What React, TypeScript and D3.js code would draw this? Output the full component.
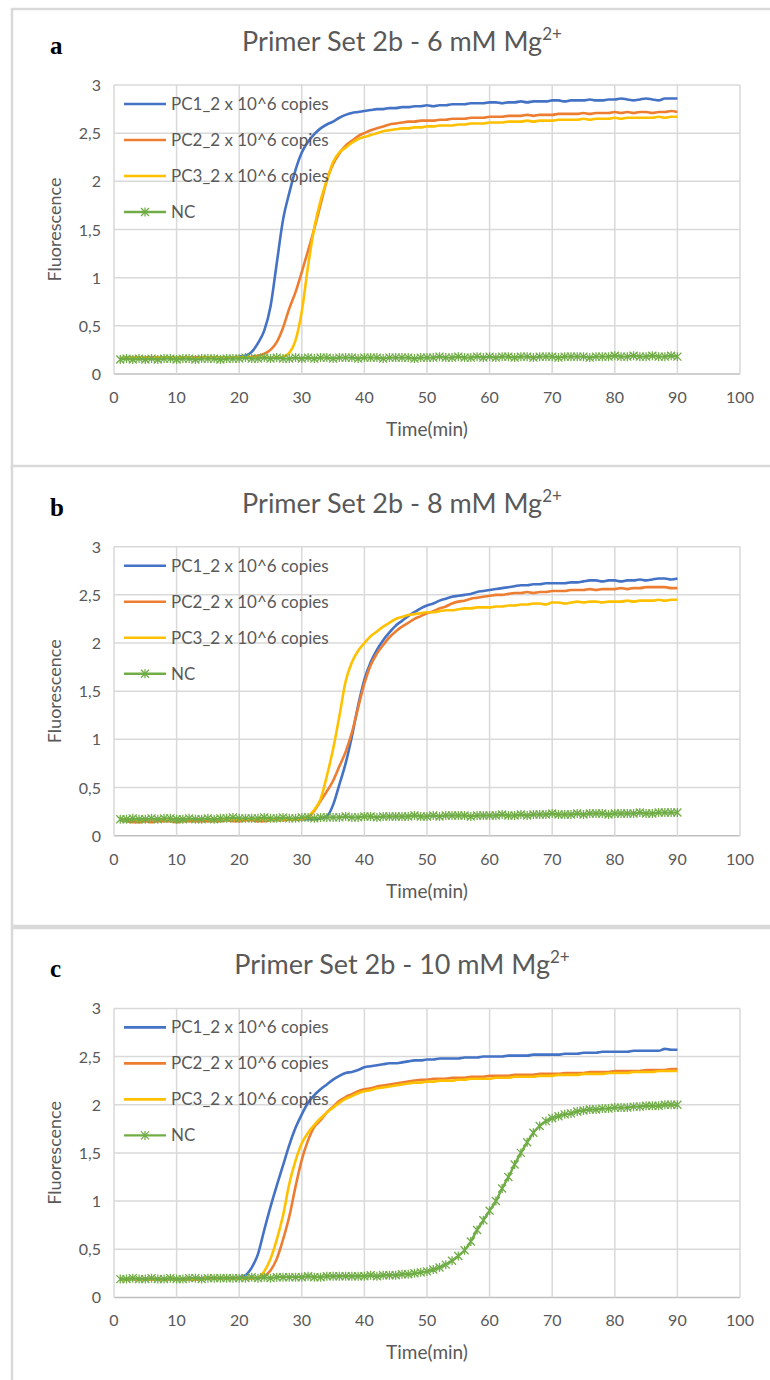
import React from "react";
import * as d3 from "d3";

// sampling times (min)
const TIME = d3.range(1, 91);

const PANEL_LABELS = ["a", "b", "c"];
const MG_CONC = ["6", "8", "10"];
const SERIES_NAMES = ["PC1_2 x 10^6 copies", "PC2_2 x 10^6 copies", "PC3_2 x 10^6 copies", "NC"];
const COLORS = ["#4472C4", "#ED7D31", "#FFC000", "#70AD47"];
const Y_TICKS = [0, 0.5, 1, 1.5, 2, 2.5, 3];
const X_TICKS = [0, 10, 20, 30, 40, 50, 60, 70, 80, 90, 100];

// ---- panel a : 6 mM
const PC1_A = [
  0.16, 0.16, 0.17, 0.16, 0.17, 0.17, 0.16, 0.17, 0.17, 0.17,
  0.17, 0.16, 0.17, 0.17, 0.17, 0.17, 0.17, 0.17, 0.17, 0.18,
  0.19, 0.23, 0.32, 0.45, 0.70, 1.15, 1.60, 1.88, 2.12, 2.30,
  2.41, 2.49, 2.55, 2.59, 2.62, 2.66, 2.69, 2.71, 2.72, 2.73,
  2.74, 2.75, 2.75, 2.76, 2.76, 2.77, 2.77, 2.78, 2.78, 2.79,
  2.78, 2.79, 2.79, 2.80, 2.80, 2.80, 2.81, 2.81, 2.81, 2.82,
  2.82, 2.81, 2.82, 2.82, 2.83, 2.82, 2.83, 2.83, 2.83, 2.84,
  2.84, 2.83, 2.84, 2.84, 2.84, 2.85, 2.84, 2.84, 2.85, 2.85,
  2.86, 2.85, 2.84, 2.85, 2.86, 2.85, 2.84, 2.86, 2.86, 2.86,
];
const PC2_A = [
  0.16, 0.17, 0.17, 0.17, 0.16, 0.17, 0.17, 0.17, 0.17, 0.16,
  0.17, 0.17, 0.17, 0.17, 0.17, 0.17, 0.17, 0.17, 0.17, 0.17,
  0.17, 0.18, 0.19, 0.21, 0.25, 0.33, 0.48, 0.68, 0.85, 1.06,
  1.28, 1.51, 1.76, 2.01, 2.18, 2.29, 2.37, 2.42, 2.47, 2.50,
  2.53, 2.55, 2.57, 2.59, 2.60, 2.61, 2.62, 2.62, 2.63, 2.63,
  2.63, 2.64, 2.64, 2.65, 2.65, 2.65, 2.66, 2.66, 2.66, 2.67,
  2.67, 2.67, 2.68, 2.68, 2.68, 2.69, 2.68, 2.69, 2.69, 2.69,
  2.70, 2.70, 2.70, 2.70, 2.71, 2.70, 2.71, 2.71, 2.71, 2.72,
  2.71, 2.72, 2.71, 2.72, 2.72, 2.71, 2.72, 2.72, 2.73, 2.72,
];
const PC3_A = [
  0.17, 0.16, 0.17, 0.17, 0.17, 0.16, 0.17, 0.17, 0.17, 0.17,
  0.17, 0.17, 0.16, 0.17, 0.17, 0.17, 0.17, 0.17, 0.17, 0.17,
  0.17, 0.17, 0.17, 0.17, 0.17, 0.17, 0.18, 0.22, 0.35, 0.65,
  1.12, 1.52, 1.80, 2.01, 2.20, 2.30, 2.35, 2.40, 2.44, 2.46,
  2.48, 2.50, 2.52, 2.53, 2.54, 2.55, 2.55, 2.56, 2.56, 2.57,
  2.57, 2.58, 2.58, 2.58, 2.59, 2.59, 2.60, 2.60, 2.60, 2.61,
  2.61, 2.61, 2.62, 2.62, 2.62, 2.63, 2.62, 2.63, 2.63, 2.63,
  2.64, 2.64, 2.64, 2.64, 2.65, 2.64, 2.65, 2.65, 2.65, 2.66,
  2.65, 2.66, 2.66, 2.66, 2.66, 2.66, 2.67, 2.66, 2.67, 2.67,
];
const NC_A = [
  0.15, 0.16, 0.15, 0.16, 0.15, 0.16, 0.15, 0.16, 0.16, 0.15,
  0.16, 0.16, 0.15, 0.16, 0.16, 0.16, 0.15, 0.16, 0.16, 0.16,
  0.17, 0.16, 0.16, 0.17, 0.16, 0.17, 0.16, 0.16, 0.17, 0.16,
  0.17, 0.16, 0.17, 0.17, 0.16, 0.17, 0.17, 0.17, 0.16, 0.17,
  0.17, 0.17, 0.16, 0.17, 0.17, 0.17, 0.17, 0.16, 0.17, 0.17,
  0.17, 0.18, 0.17, 0.17, 0.18, 0.17, 0.17, 0.18, 0.17, 0.18,
  0.17, 0.18, 0.18, 0.17, 0.18, 0.18, 0.17, 0.18, 0.18, 0.18,
  0.17, 0.18, 0.18, 0.18, 0.18, 0.17, 0.18, 0.18, 0.18, 0.19,
  0.18, 0.18, 0.19, 0.18, 0.18, 0.19, 0.18, 0.18, 0.19, 0.18,
];

// ---- panel b : 8 mM
const PC1_B = [
  0.17, 0.17, 0.16, 0.17, 0.17, 0.17, 0.17, 0.17, 0.17, 0.17,
  0.17, 0.17, 0.17, 0.17, 0.17, 0.17, 0.17, 0.17, 0.17, 0.17,
  0.17, 0.17, 0.17, 0.17, 0.17, 0.17, 0.17, 0.17, 0.17, 0.17,
  0.17, 0.17, 0.18, 0.20, 0.32, 0.53, 0.75, 1.03, 1.35, 1.62,
  1.80, 1.93, 2.03, 2.11, 2.18, 2.23, 2.28, 2.32, 2.36, 2.39,
  2.41, 2.44, 2.46, 2.48, 2.49, 2.50, 2.51, 2.53, 2.54, 2.55,
  2.56, 2.57, 2.58, 2.59, 2.60, 2.60, 2.61, 2.61, 2.62, 2.62,
  2.62, 2.62, 2.63, 2.63, 2.64, 2.65, 2.65, 2.64, 2.65, 2.65,
  2.64, 2.65, 2.65, 2.66, 2.65, 2.66, 2.67, 2.67, 2.66, 2.67,
];
const PC2_B = [
  0.16, 0.15, 0.14, 0.14, 0.15, 0.14, 0.15, 0.15, 0.15, 0.14,
  0.15, 0.15, 0.15, 0.15, 0.15, 0.15, 0.15, 0.16, 0.15, 0.15,
  0.16, 0.16, 0.15, 0.15, 0.16, 0.16, 0.16, 0.17, 0.17, 0.17,
  0.19, 0.26, 0.36, 0.46, 0.57, 0.72, 0.87, 1.07, 1.33, 1.58,
  1.77, 1.89, 1.98, 2.06, 2.12, 2.17, 2.21, 2.25, 2.28, 2.31,
  2.33, 2.36, 2.38, 2.41, 2.43, 2.44, 2.46, 2.47, 2.48, 2.49,
  2.50, 2.50, 2.51, 2.52, 2.52, 2.53, 2.52, 2.53, 2.53, 2.54,
  2.54, 2.54, 2.55, 2.55, 2.55, 2.56, 2.55, 2.56, 2.56, 2.56,
  2.57, 2.56, 2.57, 2.57, 2.58, 2.58, 2.58, 2.58, 2.57, 2.57,
];
const PC3_B = [
  0.17, 0.17, 0.17, 0.16, 0.17, 0.17, 0.17, 0.17, 0.17, 0.17,
  0.17, 0.17, 0.17, 0.17, 0.17, 0.17, 0.17, 0.17, 0.17, 0.17,
  0.17, 0.17, 0.17, 0.17, 0.17, 0.17, 0.17, 0.17, 0.17, 0.18,
  0.20, 0.27, 0.38, 0.62, 0.90, 1.24, 1.60, 1.80, 1.92, 2.00,
  2.07, 2.12, 2.17, 2.21, 2.25, 2.27, 2.29, 2.30, 2.31, 2.32,
  2.32, 2.33, 2.34, 2.34, 2.35, 2.36, 2.36, 2.37, 2.37, 2.37,
  2.38, 2.38, 2.39, 2.39, 2.40, 2.40, 2.41, 2.41, 2.40, 2.42,
  2.42, 2.41, 2.42, 2.43, 2.42, 2.43, 2.43, 2.42, 2.43, 2.43,
  2.43, 2.44, 2.43, 2.44, 2.44, 2.44, 2.45, 2.44, 2.45, 2.45,
];
const NC_B = [
  0.17, 0.17, 0.18, 0.17, 0.17, 0.18, 0.17, 0.18, 0.18, 0.17,
  0.17, 0.18, 0.17, 0.17, 0.18, 0.17, 0.18, 0.18, 0.19, 0.18,
  0.18, 0.18, 0.18, 0.19, 0.18, 0.18, 0.19, 0.18, 0.18, 0.19,
  0.19, 0.18, 0.19, 0.19, 0.19, 0.19, 0.20, 0.19, 0.19, 0.20,
  0.20, 0.19, 0.20, 0.20, 0.20, 0.20, 0.20, 0.21, 0.20, 0.20,
  0.21, 0.20, 0.21, 0.21, 0.21, 0.21, 0.20, 0.21, 0.21, 0.21,
  0.21, 0.22, 0.21, 0.21, 0.22, 0.21, 0.22, 0.22, 0.22, 0.23,
  0.22, 0.22, 0.22, 0.23, 0.22, 0.23, 0.23, 0.23, 0.22, 0.23,
  0.23, 0.23, 0.23, 0.24, 0.23, 0.23, 0.24, 0.24, 0.24, 0.24,
];

// ---- panel c : 10 mM
const PC1_C = [
  0.19, 0.19, 0.19, 0.19, 0.19, 0.19, 0.19, 0.19, 0.19, 0.19,
  0.19, 0.19, 0.19, 0.20, 0.20, 0.20, 0.20, 0.20, 0.20, 0.21,
  0.23, 0.31, 0.45, 0.70, 0.94, 1.16, 1.37, 1.58, 1.76, 1.90,
  2.02, 2.10, 2.16, 2.21, 2.26, 2.30, 2.33, 2.34, 2.36, 2.39,
  2.40, 2.41, 2.42, 2.43, 2.43, 2.44, 2.45, 2.46, 2.46, 2.47,
  2.47, 2.48, 2.48, 2.48, 2.48, 2.49, 2.49, 2.49, 2.50, 2.50,
  2.50, 2.50, 2.51, 2.51, 2.51, 2.51, 2.52, 2.52, 2.52, 2.52,
  2.52, 2.53, 2.53, 2.53, 2.54, 2.54, 2.54, 2.55, 2.55, 2.55,
  2.55, 2.55, 2.56, 2.56, 2.56, 2.56, 2.56, 2.58, 2.57, 2.57,
];
const PC2_C = [
  0.19, 0.19, 0.19, 0.19, 0.19, 0.19, 0.19, 0.19, 0.19, 0.19,
  0.19, 0.19, 0.19, 0.19, 0.20, 0.20, 0.20, 0.20, 0.20, 0.20,
  0.20, 0.20, 0.20, 0.22, 0.28, 0.40, 0.60, 0.84, 1.15, 1.43,
  1.63, 1.77, 1.84, 1.92, 1.98, 2.04, 2.08, 2.11, 2.14, 2.16,
  2.17, 2.19, 2.20, 2.21, 2.22, 2.23, 2.24, 2.25, 2.26, 2.26,
  2.27, 2.27, 2.27, 2.28, 2.28, 2.28, 2.29, 2.29, 2.29, 2.30,
  2.30, 2.30, 2.30, 2.31, 2.31, 2.31, 2.31, 2.32, 2.32, 2.32,
  2.32, 2.33, 2.33, 2.33, 2.33, 2.34, 2.34, 2.34, 2.34, 2.35,
  2.35, 2.35, 2.35, 2.35, 2.36, 2.36, 2.36, 2.36, 2.37, 2.37,
];
const PC3_C = [
  0.19, 0.19, 0.19, 0.19, 0.19, 0.19, 0.19, 0.19, 0.19, 0.19,
  0.19, 0.19, 0.19, 0.19, 0.20, 0.20, 0.20, 0.20, 0.20, 0.20,
  0.20, 0.20, 0.21, 0.27, 0.40, 0.60, 0.85, 1.18, 1.42, 1.60,
  1.71, 1.79, 1.86, 1.92, 1.97, 2.02, 2.06, 2.09, 2.12, 2.14,
  2.15, 2.17, 2.18, 2.19, 2.20, 2.21, 2.22, 2.23, 2.23, 2.24,
  2.24, 2.25, 2.25, 2.25, 2.26, 2.26, 2.27, 2.27, 2.27, 2.27,
  2.28, 2.28, 2.28, 2.29, 2.29, 2.29, 2.29, 2.30, 2.30, 2.30,
  2.31, 2.31, 2.31, 2.31, 2.32, 2.32, 2.32, 2.32, 2.33, 2.33,
  2.33, 2.33, 2.34, 2.34, 2.34, 2.34, 2.35, 2.35, 2.35, 2.35,
];
const NC_C = [
  0.19, 0.19, 0.20, 0.19, 0.19, 0.20, 0.19, 0.19, 0.20, 0.19,
  0.19, 0.20, 0.20, 0.19, 0.20, 0.20, 0.20, 0.20, 0.20, 0.20,
  0.20, 0.21, 0.20, 0.21, 0.20, 0.21, 0.21, 0.21, 0.21, 0.21,
  0.22, 0.21, 0.21, 0.22, 0.22, 0.22, 0.22, 0.22, 0.22, 0.22,
  0.23, 0.22, 0.23, 0.23, 0.23, 0.24, 0.24, 0.25, 0.26, 0.27,
  0.29, 0.31, 0.34, 0.38, 0.43, 0.49, 0.58, 0.70, 0.80, 0.90,
  1.00, 1.13, 1.25, 1.38, 1.50, 1.61, 1.71, 1.78, 1.83, 1.86,
  1.88, 1.90, 1.91, 1.93, 1.94, 1.95, 1.95, 1.96, 1.96, 1.97,
  1.97, 1.97, 1.98, 1.98, 1.99, 1.99, 1.99, 2.00, 2.00, 2.00,
];

const PANEL_SERIES = [
  [PC1_A, PC2_A, PC3_A, NC_A],
  [PC1_B, PC2_B, PC3_B, NC_B],
  [PC1_C, PC2_C, PC3_C, NC_C],
];

const W = 770;
const H = 1380;
const PANEL_STEP = 461.7;
const FONT = "Lato, 'Noto Sans', sans-serif";
const TEXT_GRAY = "#595959";
const GRID = "#d9d9d9";

const fmt = (d: number) => String(d).replace(".", ",");
const starPath = "M-4,-4L4,4M-4,4L4,-4M0,-4.5L0,4.5";

function Panel({ idx }: { idx: number }) {
  const top = 85 + idx * PANEL_STEP;
  const bottom = top + 289;
  const x = d3.scaleLinear().domain([0, 100]).range([114, 740]);
  const y = d3.scaleLinear().domain([0, 3]).range([bottom, top]);
  const line = d3
    .line<number>()
    .x((_, i) => x(TIME[i]))
    .y((d) => y(d))
    .curve(d3.curveMonotoneX);
  const series = PANEL_SERIES[idx];
  const frameTop = idx === 0 ? 9 : 466 + (idx - 1) * 462;

  return (
    <g>
      <rect x={12} y={frameTop} width={800} height={460} fill="#fff" stroke={GRID} strokeWidth={2.5} />
      <text x={50} y={top - 31} fontFamily="'Times New Roman', 'Liberation Serif', serif" fontWeight="bold" fontSize={25} fill="#000">
        {PANEL_LABELS[idx]}
      </text>
      <text x={402} y={top - 34} textAnchor="middle" fontFamily={FONT} fontSize={27} fill={TEXT_GRAY}>
        {`Primer Set 2b - ${MG_CONC[idx]} mM Mg`}
        <tspan dy={-11} fontSize={17}>2+</tspan>
      </text>

      {/* grid */}
      {Y_TICKS.map((t) => (
        <line key={"gy" + t} x1={x(0)} x2={x(100)} y1={y(t)} y2={y(t)} stroke={t === 0 ? "#bfbfbf" : GRID} strokeWidth={1.5} />
      ))}
      {X_TICKS.map((t) => (
        <line key={"gx" + t} x1={x(t)} x2={x(t)} y1={y(0)} y2={y(3)} stroke={GRID} strokeWidth={1.5} />
      ))}

      {/* tick labels */}
      {Y_TICKS.map((t) => (
        <text key={"ty" + t} x={101} y={y(t) + 6} textAnchor="end" fontFamily={FONT} fontSize={16} fill={TEXT_GRAY}>
          {fmt(t)}
        </text>
      ))}
      {X_TICKS.map((t) => (
        <text key={"tx" + t} x={x(t)} y={bottom + 29} textAnchor="middle" fontFamily={FONT} fontSize={16} fill={TEXT_GRAY}>
          {t}
        </text>
      ))}
      <text x={x(50)} y={bottom + 62} textAnchor="middle" fontFamily={FONT} fontSize={19} fill={TEXT_GRAY}>
        Time(min)
      </text>
      <text
        transform={`translate(61, ${(top + bottom) / 2}) rotate(-90)`}
        textAnchor="middle"
        fontFamily={FONT}
        fontSize={18}
        fill={TEXT_GRAY}
      >
        Fluorescence
      </text>

      {/* curves */}
      {series.map((vals, si) => (
        <path key={"s" + si} d={line(vals) || ""} fill="none" stroke={COLORS[si]} strokeWidth={si === 3 ? 2.4 : 2.6} strokeLinejoin="round" />
      ))}
      {series[3].map((v, i) => (
        <path key={"m" + i} d={starPath} transform={`translate(${x(TIME[i])},${y(v)})`} fill="none" stroke={COLORS[3]} strokeWidth={1.3} />
      ))}

      {/* legend */}
      {SERIES_NAMES.map((name, si) => {
        const ly = top + 19 + si * 36;
        return (
          <g key={"l" + si}>
            <line x1={124} x2={166} y1={ly} y2={ly} stroke={COLORS[si]} strokeWidth={si === 3 ? 2.4 : 2.6} />
            {si === 3 && <path d={starPath} transform={`translate(145,${ly})`} fill="none" stroke={COLORS[3]} strokeWidth={1.3} />}
            <text x={171} y={ly + 6} fontFamily={FONT} fontSize={17} fill={TEXT_GRAY}>
              {name}
            </text>
          </g>
        );
      })}
    </g>
  );
}

export default function App() {
  return (
    <svg width={W} height={H} style={{ position: "absolute", left: 0, top: 0, background: "#fff" }}>
      <rect x={0} y={0} width={W} height={H} fill="#fff" />
      {PANEL_LABELS.map((_, i) => (
        <Panel key={i} idx={i} />
      ))}
    </svg>
  );
}
